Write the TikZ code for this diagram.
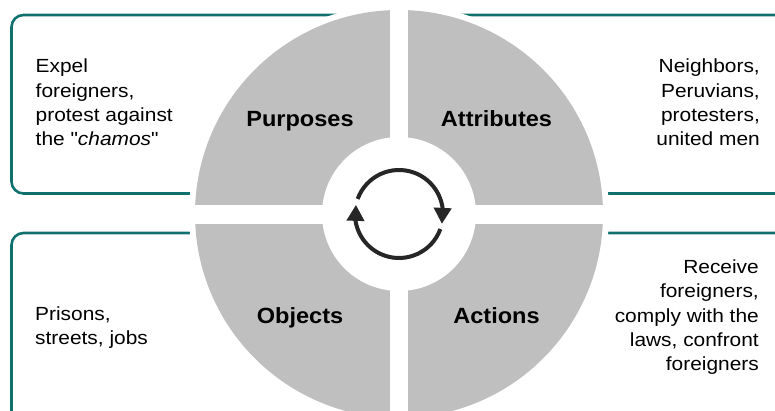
\documentclass[tikz,border=0pt]{standalone}
\usepackage{fontspec}
\setmainfont{Liberation Sans}[FakeStretch=1.1, Ligatures=TeXOff]
\newfontfamily\labfont{Liberation Sans}[FakeStretch=1.07]
\usetikzlibrary{arrows.meta,bending}
\definecolor{boxteal}{RGB}{16,112,110}
\definecolor{quadgray}{RGB}{191,191,191}
\definecolor{arrowdark}{RGB}{38,38,38}
\begin{document}
\begin{tikzpicture}[x=1pt,y=1pt,
  panel/.style={draw=boxteal, line width=2.6pt, rounded corners=12pt},
  bodytext/.style={font=\fontsize{19}{24.4}\selectfont, inner sep=0pt},
  labeltext/.style={font=\labfont\bfseries\fontsize{22}{26}\selectfont, inner sep=0pt, anchor=base},
  cyclearrow/.style={draw=arrowdark, line width=4pt, -{Triangle[length=16pt,width=17pt]}}]
\useasboundingbox (0,0) rectangle (775,411);
\coordinate (hub) at (399,197);
\begin{scope}
\clip (0,0) rectangle (775,411);
% text panels
\draw[panel] (11.5,217.5) rectangle (399,396);
\draw[panel] (399,217.5) rectangle (787,396);
\draw[panel] (11.5,-14) rectangle (399,178);
\draw[panel] (399,-14) rectangle (787,178);
% wheel
\fill[white] (hub) circle[radius=210];
\fill[quadgray] (hub) circle[radius=204];
\fill[white] (390,-10) rectangle (408,410);
\fill[white] (190,187) rectangle (610,206);
\fill[white] (hub) circle[radius=77];
\end{scope}
% cycle arrows
\draw[cyclearrow] ([shift={(160:44)}]hub) arc[start angle=160, end angle=-13, radius=44];
\draw[cyclearrow] ([shift={(-20:44)}]hub) arc[start angle=-20, end angle=-192, radius=44];
% quadrant labels
\node[labeltext] (purposes) at (300,284) {Purposes};
\node[labeltext] (attributes) at (496.5,284) {Attributes};
\node[labeltext] (objects) at (300,87) {Objects};
\node[labeltext] (actions) at (496.5,87) {Actions};
% panel texts (anchored at the baseline of their last line)
\node[bodytext, align=left, anchor=base west] (purposetext) at (35.5,265)
  {Expel\\foreigners,\\protest against\\the "\textit{chamos}"};
\node[bodytext, align=right, anchor=base east] (attrtext) at (760,265)
  {Neighbors,\\Peruvians,\\protesters,\\united men};
\node[bodytext, align=left, anchor=base west] (objtext) at (35,66)
  {Prisons,\\streets, jobs};
\node[bodytext, align=right, anchor=base east] (acttext) at (759,40)
  {Receive\\foreigners,\\comply with the\\laws, confront\\foreigners};
\end{tikzpicture}
\end{document}
